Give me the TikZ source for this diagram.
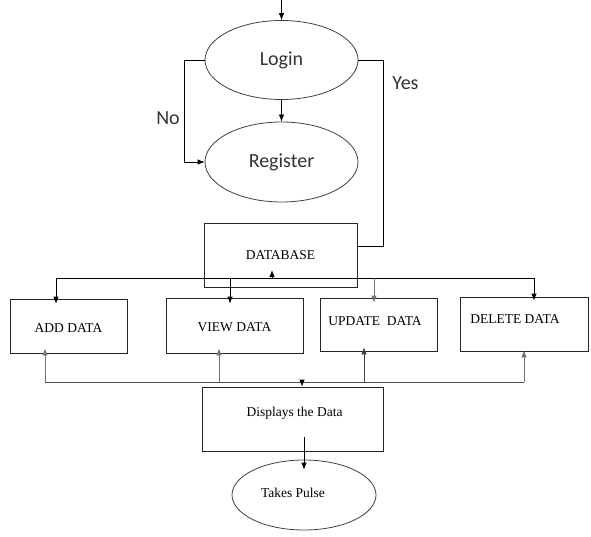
\documentclass[tikz,border=0pt]{standalone}
\usepackage{fontspec}
\setmainfont{Liberation Serif}
\newfontfamily\calib{Carlito}
\usetikzlibrary{shapes.geometric,arrows.meta,calc}
\begin{document}
\begin{tikzpicture}[x=1pt,y=-1pt,
 line/.style={line width=0.8pt, draw=black},
 grayline/.style={line width=0.8pt, draw=black!55},
 arr/.style={line, -{Latex[length=7pt,width=5.5pt]}},
 garr/.style={grayline, -{Latex[length=7pt,width=5.5pt]}},
 oval/.style={ellipse, draw=black!75, line width=0.8pt, inner sep=0pt},
 box/.style={rectangle, draw=black!85, line width=0.8pt, inner sep=0pt},
 big/.style={font=\calib\fontsize{20}{24}\selectfont, text=black!80},
 small/.style={font=\fontsize{13.5}{16}\selectfont, text=black},
]
\useasboundingbox (0,0) rectangle (591,537);
% nodes
\node[oval, big, minimum width=153pt, minimum height=79pt] (login) at (281.5,60) {Login};
\node[oval, big, minimum width=153pt, minimum height=80pt] (register) at (281.5,162) {Register};
\node[box, small, minimum width=153pt, minimum height=64pt] (db) at (280.5,255) {DATABASE};
\node[box, minimum width=117pt, minimum height=54pt,
      label={[small,yshift=-2pt]center:ADD DATA}] (add) at (68.5,326) {};
\node[box, minimum width=137pt, minimum height=55pt,
      label={[small,yshift=-1.5pt]center:VIEW DATA}] (view) at (234.5,325.5) {};
\node[box, minimum width=117pt, minimum height=53pt,
      label={[small,xshift=-3.5pt,yshift=3.5pt]center:UPDATE~~DATA}] (update) at (378.5,324.5) {};
\node[box, minimum width=128pt, minimum height=54pt,
      label={[small,xshift=-9pt,yshift=5pt]center:DELETE DATA}] (delete) at (524,324) {};
\node[box, minimum width=181pt, minimum height=64pt,
      label={[small,xshift=2pt,yshift=6pt]center:Displays the Data}] (disp) at (292.5,419) {};
\node[oval, minimum width=144pt, minimum height=70pt,
      label={[small,xshift=-11pt,yshift=2pt]center:Takes Pulse}] (pulse) at (304,495) {};
% labels
\node[big] (yes) at (405.5,83) {Yes};
\node[big] (no) at (168,118) {No};
% coordinates
\coordinate (start) at (281.5,0);
\coordinate (yc) at (383,246);
\coordinate (dl) at (56,278);
\coordinate (dr) at (534,278);
\coordinate (dbin) at (272,278);
\coordinate (vd) at (230,278);
\coordinate (ud) at (374,278);
\coordinate (bl) at (45,382);
\coordinate (br) at (524,382);
\coordinate (vu) at (219,382);
\coordinate (uu) at (364,382);
\coordinate (dd) at (302,382);
% connectors
\draw[arr] (start) -- (login.north);
\draw[arr] (login.south) -- (register.north);
\draw[arr] (login.west) -- ++(-20,0) |- (register.west);
\draw[line] (login.east) -| (yc) -- (db.east |- yc);
% distributor
\draw[line] (dl) -- (dr);
\draw[arr] (dbin) -- ++(0,-8);
\draw[arr, shorten >=-5pt] (dl) -- (add.north -| dl);
\draw[arr, shorten >=-6pt] (vd) -- (view.north -| vd);
\draw[garr, shorten >=-5pt] (ud) -- (update.north -| ud);
\draw[arr, shorten >=-4pt] (dr) -- (delete.north -| dr);
% bottom collector
\draw[line, draw=black!70] (bl) -- (br);
\draw[garr, shorten >=-5pt] (bl) -- (add.south -| bl);
\draw[garr, shorten >=-5pt] (vu) -- (view.south -| vu);
\draw[arr, draw=black!75, shorten >=-4pt] (uu) -- (update.south -| uu);
\draw[garr, shorten >=-1pt] (br) -- (delete.south -| br);
\draw[arr] (dd) -- (disp.north -| dd);
\draw[arr, shorten <=-14pt, shorten >=-10pt] (disp.south -| pulse.north) -- (pulse.north);
\end{tikzpicture}
\end{document}
